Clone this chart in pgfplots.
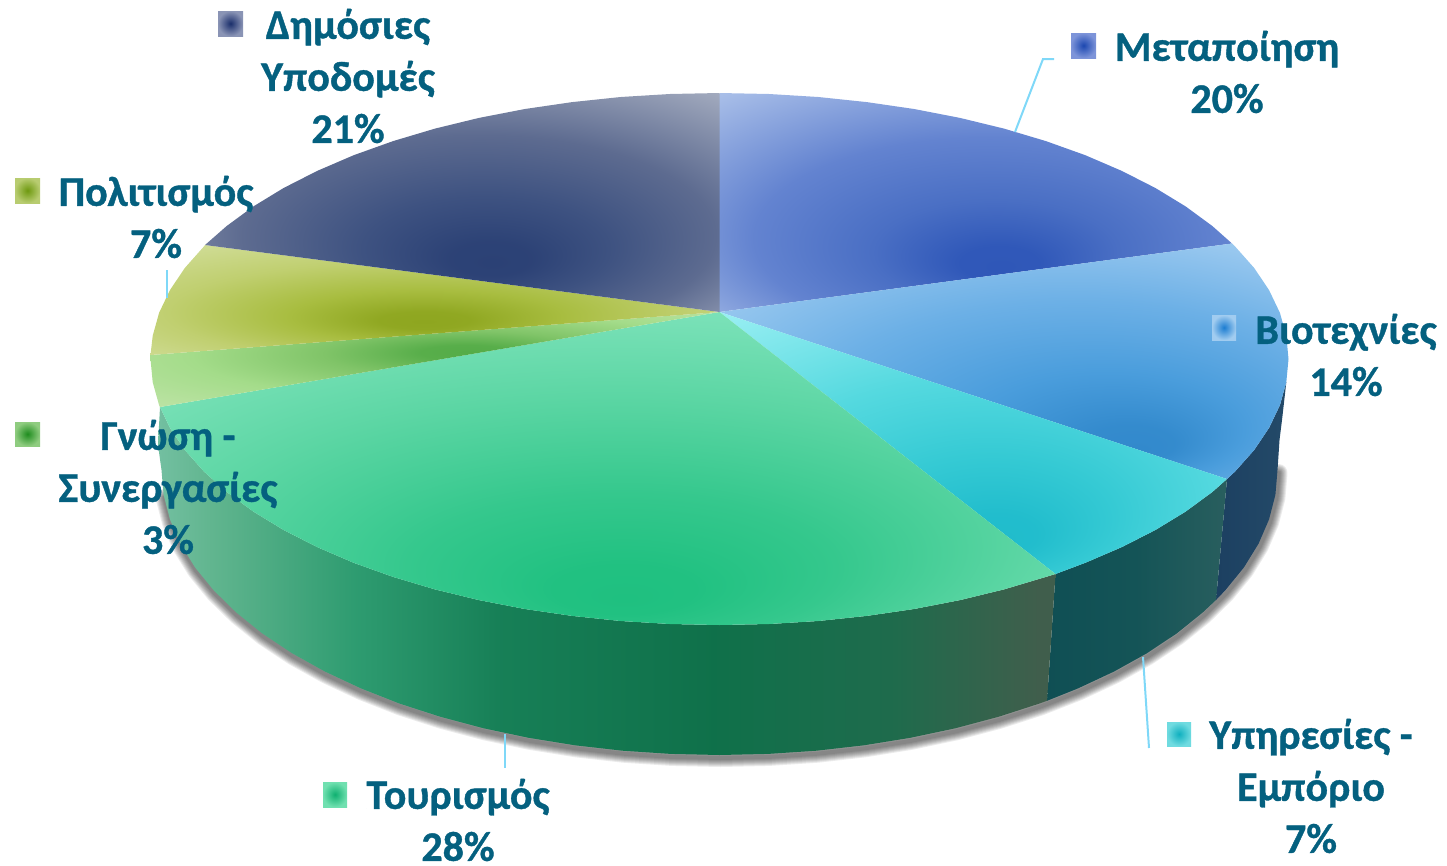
\documentclass[border=0pt]{standalone}
\usepackage{fontspec}
\setmainfont{Carlito}[BoldFeatures={FakeBold=0.9}]
\usepackage{pgfplots}
\pgfplotsset{compat=1.18}

\definecolor{lbl}{HTML}{04607F}
\definecolor{lead}{HTML}{7FD8F8}
\definecolor{kdimoA}{rgb}{0.10,0.18,0.42}\definecolor{kdimoB}{rgb}{0.54,0.58,0.71}
\definecolor{kmetaA}{rgb}{0.11,0.28,0.69}\definecolor{kmetaB}{rgb}{0.49,0.58,0.85}
\definecolor{kpoliA}{rgb}{0.43,0.60,0.06}\definecolor{kpoliB}{rgb}{0.72,0.80,0.44}
\definecolor{kbiotA}{rgb}{0.11,0.49,0.82}\definecolor{kbiotB}{rgb}{0.63,0.80,0.94}
\definecolor{kgnosA}{rgb}{0.12,0.55,0.12}\definecolor{kgnosB}{rgb}{0.56,0.80,0.50}
\definecolor{kypirA}{rgb}{0.06,0.69,0.75}\definecolor{kypirB}{rgb}{0.44,0.86,0.88}
\definecolor{ktourA}{rgb}{0.06,0.69,0.44}\definecolor{ktourB}{rgb}{0.44,0.88,0.69}

\tikzset{
  lab/.style={font=\fontsize{42}{52}\selectfont\bfseries, text=lbl, align=center, inner sep=0pt},
  leader/.style={draw=lead, line width=2pt},
  shad/.style={draw=black, draw opacity=0.08, line join=round, line cap=round, yshift=-3pt, xshift=1pt},
}

% top faces: radial, dark spot towards the rim
\pgfdeclareradialshading{metap}{\pgfpoint{2.5bp}{-15bp}}{rgb(0bp)=(0.184,0.341,0.722); rgb(4bp)=(0.190,0.347,0.725); rgb(12bp)=(0.290,0.435,0.769); rgb(23bp)=(0.388,0.514,0.816); rgb(38bp)=(0.659,0.745,0.910); rgb(50bp)=(0.659,0.745,0.910)}
\pgfdeclareradialshading{biot}{\pgfpoint{12bp}{-19bp}}{rgb(0bp)=(0.196,0.537,0.800); rgb(4bp)=(0.205,0.545,0.806); rgb(12bp)=(0.290,0.616,0.863); rgb(23bp)=(0.424,0.690,0.902); rgb(38bp)=(0.659,0.816,0.949); rgb(50bp)=(0.659,0.816,0.949)}
\pgfdeclareradialshading{ypir}{\pgfpoint{2.5bp}{-19bp}}{rgb(0bp)=(0.125,0.737,0.800); rgb(4bp)=(0.132,0.742,0.803); rgb(12bp)=(0.208,0.792,0.831); rgb(23bp)=(0.333,0.851,0.875); rgb(38bp)=(0.592,0.933,0.949); rgb(50bp)=(0.592,0.933,0.949)}
\pgfdeclareradialshading{tour}{\pgfpoint{1bp}{-21bp}}{rgb(0bp)=(0.122,0.753,0.502); rgb(4bp)=(0.130,0.757,0.507); rgb(12bp)=(0.208,0.784,0.553); rgb(23bp)=(0.361,0.839,0.643); rgb(38bp)=(0.549,0.910,0.769); rgb(50bp)=(0.549,0.910,0.769)}
\pgfdeclareradialshading{gnos}{\pgfpoint{3bp}{4bp}}{rgb(0bp)=(0.333,0.675,0.282); rgb(4bp)=(0.345,0.682,0.291); rgb(12bp)=(0.502,0.769,0.408); rgb(23bp)=(0.643,0.863,0.541); rgb(38bp)=(0.753,0.894,0.659); rgb(50bp)=(0.753,0.894,0.659)}
\pgfdeclareradialshading{poli}{\pgfpoint{-1bp}{-10bp}}{rgb(0bp)=(0.557,0.651,0.125); rgb(4bp)=(0.565,0.658,0.134); rgb(12bp)=(0.659,0.741,0.251); rgb(23bp)=(0.753,0.812,0.439); rgb(38bp)=(0.831,0.878,0.627); rgb(50bp)=(0.831,0.878,0.627)}
\pgfdeclareradialshading{dimo}{\pgfpoint{3bp}{-14bp}}{rgb(0bp)=(0.169,0.255,0.459); rgb(4bp)=(0.175,0.260,0.463); rgb(12bp)=(0.243,0.322,0.506); rgb(23bp)=(0.365,0.420,0.565); rgb(38bp)=(0.647,0.678,0.753); rgb(50bp)=(0.647,0.678,0.753)}

% walls, 25bp = left end of the wall, 75bp = right end
\pgfdeclarehorizontalshading{walltour}{100bp}{rgb(0bp)=(0.45,0.75,0.63); rgb(25bp)=(0.45,0.75,0.63); rgb(28bp)=(0.38,0.71,0.56); rgb(36bp)=(0.18,0.61,0.44); rgb(44bp)=(0.09,0.50,0.34); rgb(56bp)=(0.06,0.44,0.29); rgb(66bp)=(0.12,0.42,0.30); rgb(74bp)=(0.25,0.37,0.30); rgb(100bp)=(0.25,0.37,0.30)}
\pgfdeclarehorizontalshading{wallypir}{100bp}{rgb(0bp)=(0.06,0.31,0.33); rgb(25bp)=(0.06,0.31,0.33); rgb(50bp)=(0.08,0.33,0.34); rgb(75bp)=(0.16,0.37,0.37); rgb(100bp)=(0.16,0.37,0.37)}
\pgfdeclarehorizontalshading{wallbiot}{100bp}{rgb(0bp)=(0.11,0.25,0.38); rgb(25bp)=(0.11,0.25,0.38); rgb(75bp)=(0.14,0.29,0.41); rgb(100bp)=(0.14,0.29,0.41)}

% lower rim of the drum, used for the soft shadow
\pgfplotstableread[row sep=\\]{
x y\\
163.6 494.8\\ 170 519.5\\ 180.5 543.8\\ 195.1 567.5\\ 213.8 590.4\\ 236.3 612.5\\ 262.4 633.5\\ 292 653.2\\
324.9 671.5\\ 360.8 688.3\\ 399.4 703.5\\ 440.5 716.8\\ 483.7 728.3\\ 528.7 737.8\\ 575.1 745.3\\ 622.6 750.7\\ 670.9 753.9\\ 719.5 755\\
768.1 753.9\\ 816.4 750.7\\ 863.9 745.3\\ 910.3 737.8\\ 955.3 728.3\\ 998.5 716.8\\ 1039.6 703.5\\ 1078.2 688.3\\ 1114.1 671.5\\ 1147 653.2\\
1176.6 633.5\\ 1202.7 612.5\\ 1225.2 590.4\\ 1243.9 567.5\\ 1258.5 543.8\\ 1269 519.5\\ 1275.4 494.8\\ 1277.5 470\\
}\rim

\begin{document}
\begin{tikzpicture}
\useasboundingbox (0,0) rectangle (1447pt,865pt);
\begin{axis}[
  at={(0,0)}, anchor=south west,
  scale only axis, width=1447pt, height=865pt,
  xmin=0, xmax=1447, ymin=0, ymax=865, y dir=reverse,
  hide axis, clip=false,
  every axis plot/.append style={no markers, forget plot},
]
% shadow
\addplot[shad, line width=18pt] table {\rim};
\addplot[shad, line width=16pt] table {\rim};
\addplot[shad, line width=14pt] table {\rim};
\addplot[shad, line width=12pt] table {\rim};
\addplot[shad, line width=10pt] table {\rim};
\addplot[shad, line width=8pt] table {\rim};
\addplot[shad, line width=6pt] table {\rim};
\addplot[shad, line width=4pt] table {\rim};

% walls
\addplot[draw=none, shading=wallbiot] coordinates {
(1286.3,382.2)(1279.9,405.2)(1269.1,427.8)(1254.2,450)(1235.2,471.4)(1227,479)(1216,600)
(1225.2,590.4)(1243.9,567.5)(1258.5,543.8)(1269,519.5)(1275.4,494.8)(1277.5,470)(1279.5,440)(1282,420)};
\addplot[draw=none, shading=wallypir] coordinates {
(1227,479)(1212.3,492)(1185.6,511.6)(1155.4,530)(1121.8,547.1)(1085.3,562.8)(1055.5,574)(1047,700.8)
(1078.2,688.3)(1114.1,671.5)(1147,653.2)(1176.6,633.5)(1202.7,612.5)(1216,600)};
\addplot[draw=none, shading=walltour] coordinates {
(1055.5,574)(1045.9,576.9)(1004,589.4)(960,600.1)(914.1,609)(866.8,615.9)(818.3,621)(769.1,624)(719.5,625)
(669.9,624)(620.7,621)(572.2,615.9)(524.9,609)(479,600.1)(435,589.4)(393.1,576.9)(353.7,562.8)(317.2,547.1)
(283.6,530)(253.4,511.6)(226.7,492)(203.8,471.4)(184.8,450)(169.9,427.8)(160,407)
(158,445)(161.5,470)(163.6,494.8)(170,519.5)(180.5,543.8)(195.1,567.5)(213.8,590.4)(236.3,612.5)(262.4,633.5)(292,653.2)
(324.9,671.5)(360.8,688.3)(399.4,703.5)(440.5,716.8)(483.7,728.3)(528.7,737.8)(575.1,745.3)(622.6,750.7)(670.9,753.9)(719.5,755)
(768.1,753.9)(816.4,750.7)(863.9,745.3)(910.3,737.8)(955.3,728.3)(998.5,716.8)(1039.6,703.5)(1047,700.8)};

% top faces
\addplot[draw=none, shading=metap] coordinates {
(719.5,312)(719.5,93)(769.1,94)(818.3,97)(866.8,102.1)(914.1,109)(960,117.9)(1004,128.6)(1045.9,141.1)(1085.3,155.2)
(1121.8,170.9)(1155.4,188)(1185.6,206.4)(1212.3,226)(1232,243.5)};
\addplot[draw=none, shading=biot] coordinates {
(719.5,312)(1232,243.5)(1235.2,246.6)(1254.2,268)(1269.1,290.2)(1279.9,312.8)(1286.3,335.8)(1288.5,359)(1286.3,382.2)
(1279.9,405.2)(1269.1,427.8)(1254.2,450)(1235.2,471.4)(1227,479)};
\addplot[draw=none, shading=ypir] coordinates {
(719.5,312)(1227,479)(1212.3,492)(1185.6,511.6)(1155.4,530)(1121.8,547.1)(1085.3,562.8)(1055.5,574)};
\addplot[draw=none, shading=tour] coordinates {
(719.5,312)(1055.5,574)(1045.9,576.9)(1004,589.4)(960,600.1)(914.1,609)(866.8,615.9)(818.3,621)(769.1,624)(719.5,625)
(669.9,624)(620.7,621)(572.2,615.9)(524.9,609)(479,600.1)(435,589.4)(393.1,576.9)(353.7,562.8)(317.2,547.1)
(283.6,530)(253.4,511.6)(226.7,492)(203.8,471.4)(184.8,450)(169.9,427.8)(160,407)};
\addplot[draw=none, shading=gnos] coordinates {
(719.5,312)(160,407)(159.1,405.2)(152.7,382.2)(150.5,359)(150.5,355)};
\addplot[draw=none, shading=poli] coordinates {
(719.5,312)(150.5,355)(152.7,335.8)(159.1,312.8)(169.9,290.2)(184.8,268)(203.8,246.6)(205,245)};
\addplot[draw=none, shading=dimo] coordinates {
(719.5,312)(205,245)(226.7,226)(253.4,206.4)(283.6,188)(317.2,170.9)(353.7,155.2)(393.1,141.1)(435,128.6)(479,117.9)
(524.9,109)(572.2,102.1)(620.7,97)(669.9,94)(719.5,93)};

% leader lines
\addplot[leader] coordinates {(1015,132)(1043,59)(1054,59)};
\addplot[leader] coordinates {(167,270)(167,298)};
\addplot[leader] coordinates {(1143,657)(1149,748)};
\addplot[leader] coordinates {(505,734)(505,768)};

% legend keys
\addplot[draw=none, inner color=kdimoA, outer color=kdimoB] coordinates {(218,11)(243,11)(243,36)(218,36)};
\addplot[draw=none, inner color=kmetaA, outer color=kmetaB] coordinates {(1071,33)(1096,33)(1096,58)(1071,58)};
\addplot[draw=none, inner color=kpoliA, outer color=kpoliB] coordinates {(15,178)(40,178)(40,203)(15,203)};
\addplot[draw=none, inner color=kbiotA, outer color=kbiotB] coordinates {(1212,315)(1236,315)(1236,340)(1212,340)};
\addplot[draw=none, inner color=kgnosA, outer color=kgnosB] coordinates {(15,422)(40,422)(40,446)(15,446)};
\addplot[draw=none, inner color=kypirA, outer color=kypirB] coordinates {(1167,722)(1191,722)(1191,746)(1167,746)};
\addplot[draw=none, inner color=ktourA, outer color=ktourB] coordinates {(323,782)(347,782)(347,807)(323,807)};

% labels
\node[lab] at (axis cs:348,76) {Δημόσιες\\Υποδομές\\21\%};
\node[lab] at (axis cs:1227,72) {Μεταποίηση\\20\%};
\node[lab] at (axis cs:156,217) {Πολιτισμός\\7\%};
\node[lab] at (axis cs:1346,355) {Βιοτεχνίες\\14\%};
\node[lab] at (axis cs:168,487) {Γνώση -\\Συνεργασίες\\3\%};
\node[lab] at (axis cs:1311,786) {Υπηρεσίες -\\Εμπόριο\\7\%};
\node[lab] at (axis cs:458,820) {Τουρισμός\\28\%};
\end{axis}
\end{tikzpicture}
\end{document}
